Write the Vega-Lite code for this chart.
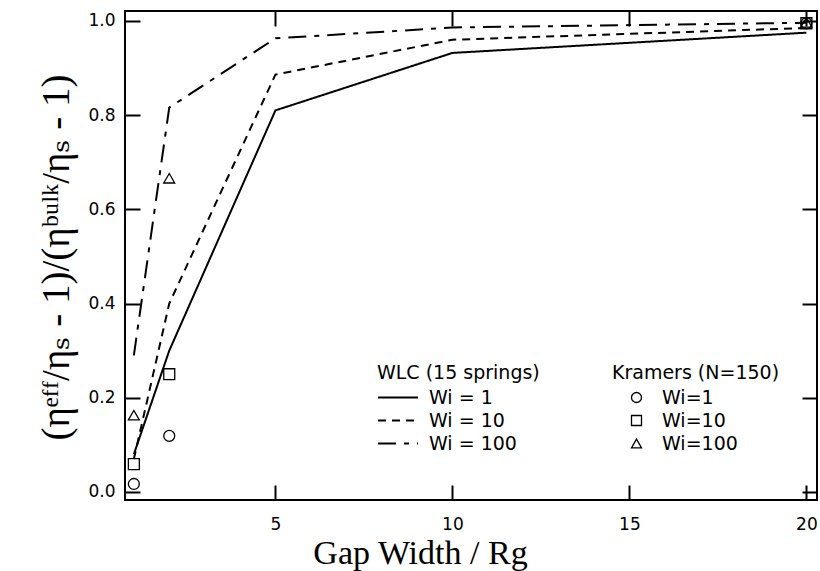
{
  "$schema": "https://vega.github.io/schema/vega-lite/v6.json",
  "width": 692,
  "height": 489,
  "autosize": {"type": "none"},
  "padding": {"left": 125, "top": 11, "right": 3, "bottom": 71},
  "background": "white",
  "datasets": {
    "lines": [
      {"gap": 1, "val": 0.08, "wlc": "Wi = 1"},
      {"gap": 2, "val": 0.30, "wlc": "Wi = 1"},
      {"gap": 5, "val": 0.81, "wlc": "Wi = 1"},
      {"gap": 10, "val": 0.932, "wlc": "Wi = 1"},
      {"gap": 20, "val": 0.975, "wlc": "Wi = 1"},
      {"gap": 1, "val": 0.07, "wlc": "Wi = 10"},
      {"gap": 2, "val": 0.40, "wlc": "Wi = 10"},
      {"gap": 5, "val": 0.886, "wlc": "Wi = 10"},
      {"gap": 10, "val": 0.96, "wlc": "Wi = 10"},
      {"gap": 20, "val": 0.985, "wlc": "Wi = 10"},
      {"gap": 1, "val": 0.29, "wlc": "Wi = 100"},
      {"gap": 2, "val": 0.816, "wlc": "Wi = 100"},
      {"gap": 5, "val": 0.963, "wlc": "Wi = 100"},
      {"gap": 10, "val": 0.986, "wlc": "Wi = 100"},
      {"gap": 20, "val": 0.996, "wlc": "Wi = 100"}
    ],
    "points": [
      {"gap": 1, "val": 0.017, "kramers": "Wi=1"},
      {"gap": 2, "val": 0.119, "kramers": "Wi=1"},
      {"gap": 20, "val": 0.995, "kramers": "Wi=1"},
      {"gap": 1, "val": 0.059, "kramers": "Wi=10"},
      {"gap": 2, "val": 0.25, "kramers": "Wi=10"},
      {"gap": 20, "val": 0.995, "kramers": "Wi=10"},
      {"gap": 1, "val": 0.163, "kramers": "Wi=100"},
      {"gap": 2, "val": 0.666, "kramers": "Wi=100"},
      {"gap": 20, "val": 0.997, "kramers": "Wi=100"}
    ]
  },
  "layer": [
    {
      "data": {"name": "lines"},
      "mark": {"type": "line", "color": "black", "strokeWidth": 2},
      "encoding": {
        "x": {
          "field": "gap", "type": "quantitative",
          "scale": {"domain": [0.75, 20.3], "nice": false, "zero": false},
          "axis": {
            "orient": "bottom", "values": [5, 10, 15, 20], "format": "d",
            "title": "Gap Width / Rg", "titleFontSize": 34,
            "titleX": 295, "titleY": 63, "titleAlign": "center", "titleBaseline": "alphabetic",
            "labelPadding": 31
          }
        },
        "y": {
          "field": "val", "type": "quantitative",
          "scale": {"domain": [-0.017, 1.021], "nice": false, "zero": false},
          "axis": {
            "orient": "left", "values": [0, 0.2, 0.4, 0.6, 0.8, 1.0], "format": ".1f",
            "title": "(ηᵉᶠᶠ/ηₛ - 1)/(ηᵇᵘˡᵏ/ηₛ - 1)", "titleFontSize": 39,
            "titleX": -57, "titleY": 246, "titleAlign": "center", "titleBaseline": "alphabetic", "titleAngle": -90,
            "labelPadding": 25
          }
        },
        "strokeDash": {
          "field": "wlc", "type": "nominal",
          "scale": {"domain": ["Wi = 1", "Wi = 10", "Wi = 100"], "range": [[1, 0], [8, 6], [18, 8, 5, 8]]},
          "legend": {
            "title": "WLC (15 springs)", "legendX": 252, "legendY": 353,
            "symbolType": "stroke", "symbolSize": 1600, "symbolStrokeWidth": 2, "symbolStrokeColor": "black",
            "clipHeight": 19, "rowPadding": 3, "labelOffset": 10, "titlePadding": 5
          }
        }
      }
    },
    {
      "data": {"name": "points"},
      "mark": {"type": "point", "filled": false, "color": "black", "strokeWidth": 1.3, "size": 120, "opacity": 1},
      "encoding": {
        "x": {
          "field": "gap", "type": "quantitative",
          "scale": {"domain": [0.75, 20.3], "nice": false, "zero": false},
          "axis": {"orient": "top", "values": [5, 10, 15, 20], "labels": false, "title": null}
        },
        "y": {
          "field": "val", "type": "quantitative",
          "scale": {"domain": [-0.017, 1.021], "nice": false, "zero": false},
          "axis": {"orient": "right", "values": [0, 0.2, 0.4, 0.6, 0.8, 1.0], "labels": false, "title": null}
        },
        "shape": {
          "field": "kramers", "type": "nominal",
          "scale": {"domain": ["Wi=1", "Wi=10", "Wi=100"], "range": ["circle", "square", "triangle-up"]},
          "legend": {
            "title": "Kramers (N=150)", "legendX": 487, "legendY": 353,
            "symbolSize": 100, "symbolStrokeWidth": 1.3, "symbolStrokeColor": "black", "symbolFillColor": "transparent",
            "symbolOffset": 15, "clipHeight": 19, "rowPadding": 3, "labelOffset": 16, "titlePadding": 5
          }
        }
      }
    }
  ],
  "resolve": {"axis": {"x": "independent", "y": "independent"}},
  "config": {
    "view": {"stroke": "black", "strokeWidth": 2},
    "axis": {
      "domain": false, "grid": false,
      "ticks": true, "tickColor": "black", "tickWidth": 2, "tickSize": -15,
      "labelFont": "DejaVu Sans", "labelFontSize": 17, "labelColor": "black",
      "titleFont": "Liberation Serif, DejaVu Serif", "titleFontWeight": "normal", "titleColor": "black"
    },
    "legend": {
      "orient": "none", "padding": 0,
      "titleFont": "DejaVu Sans", "titleFontSize": 19, "titleFontWeight": "normal", "titleColor": "black",
      "labelFont": "DejaVu Sans", "labelFontSize": 19, "labelColor": "black"
    }
  }
}
